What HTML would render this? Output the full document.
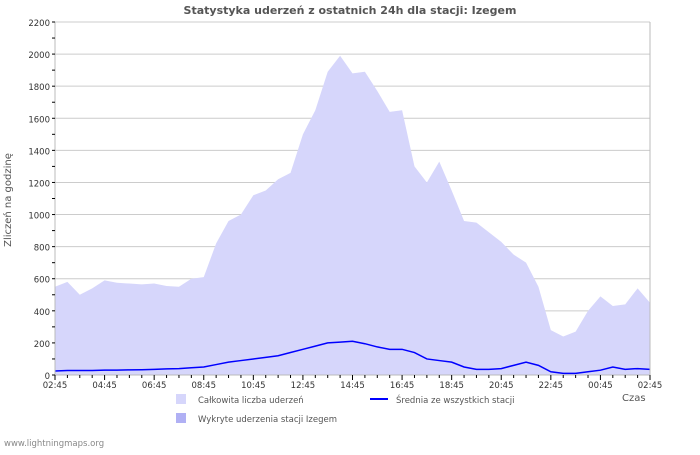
<!DOCTYPE html>
<html><head><meta charset="utf-8"><style>
body{margin:0;background:#fff;}
text{font-family:"DejaVu Sans","Liberation Sans",sans-serif;}
</style></head><body>
<svg id="chart" width="700" height="450" xmlns="http://www.w3.org/2000/svg">
<rect width="700" height="450" fill="#fff"/>
<text x="350" y="14" text-anchor="middle" font-size="11" font-weight="bold" fill="#555">Statystyka uderzeń z ostatnich 24h dla stacji: Izegem</text>
<g id="grid"></g>
<g id="series"></g>
<g id="axes"></g>
<text transform="translate(11,200) rotate(-90)" text-anchor="middle" font-size="10" fill="#555">Zliczeń na godzinę</text>
<text x="622" y="401" font-size="10" fill="#555">Czas</text>
<rect x="176" y="394" width="10" height="10" fill="#d6d6fb"/>
<text x="198" y="403" font-size="8.5" fill="#555">Całkowita liczba uderzeń</text>
<rect x="176" y="413" width="10" height="10" fill="#b0b0f4"/>
<text x="198" y="422" font-size="8.5" fill="#555">Wykryte uderzenia stacji Izegem</text>
<line x1="370" y1="399" x2="388" y2="399" stroke="#0000ff" stroke-width="2"/>
<text x="396" y="403" font-size="8.5" fill="#555">Średnia ze wszystkich stacji</text>
<text x="4" y="446" font-size="8.5" fill="#888">www.lightningmaps.org</text>
</svg>
<script>
const totalCounts=[550,580,500,540,590,575,570,565,570,555,550,600,610,820,960,1000,1120,1150,1220,1260,1500,1650,1890,1990,1880,1890,1770,1640,1650,1300,1200,1330,1150,960,950,890,830,750,700,550,280,240,270,400,490,430,440,540,450];
const avgCounts=[25,28,28,28,30,30,32,33,35,38,40,45,50,65,80,90,100,110,120,140,160,180,200,205,210,195,175,160,160,140,100,90,80,50,35,35,40,60,80,60,20,10,10,20,30,50,35,40,35];
const yTicks=[0,200,400,600,800,1000,1200,1400,1600,1800,2000,2200];
const xLabels=["02:45","04:45","06:45","08:45","10:45","12:45","14:45","16:45","18:45","20:45","22:45","00:45","02:45"];
const X0=55,X1=650,Y0=375,Y1=22,YMAX=2200;
const n=totalCounts.length;
const xs=i=>X0+(X1-X0)*i/(n-1);
const ys=v=>Y0-(Y0-Y1)*v/YMAX;
const NS="http://www.w3.org/2000/svg";
function mk(tag,attrs,parent){const e=document.createElementNS(NS,tag);for(const k in attrs)e.setAttribute(k,attrs[k]);document.getElementById(parent).appendChild(e);return e;}
yTicks.forEach(v=>{
 const l=mk('line',{x1:X0,x2:X1,y1:ys(v),y2:ys(v),stroke:'#ccc','stroke-width':1},'grid');
 
 
 const t=mk('text',{x:X0-5,y:ys(v)+4,'text-anchor':'end','font-size':8.5,fill:'#333'},'axes');
 t.textContent=v;
 
 
});
let pts=X0+','+Y0+' ';
totalCounts.forEach((v,i)=>{pts+=xs(i)+','+ys(v)+' ';});
pts+=X1+','+Y0;
const area=mk('polygon',{points:pts,fill:'#d6d6fb'},'series');


const line=mk('polyline',{points:avgCounts.map((v,i)=>xs(i)+','+ys(v)).join(' '),fill:'none',stroke:'#0000ff','stroke-width':1.5},'series');


const ax=mk('path',{d:`M${X0},${Y1}V${Y0}H${X1}V${Y1}`,fill:'none',stroke:'#bbb','stroke-width':1},'axes');


for(let k=0;k<=48;k++){
 const x=X0+(X1-X0)*k/48;
 const tk=mk('line',{x1:x,x2:x,y1:Y0,y2:Y0+(k%4==0?5:3),stroke:'#000','stroke-width':1},'axes');
 
 
}
for(let k=0;k<=22;k++){
 const y=ys(k*100);
 const tk=mk('line',{x1:X0-3,x2:X0,y1:y,y2:y,stroke:'#000','stroke-width':1},'axes');
 
 
}
xLabels.forEach((s,i)=>{
 const t=mk('text',{x:X0+(X1-X0)*i/(xLabels.length-1),y:Y0+13,'text-anchor':'middle','font-size':8.5,fill:'#333'},'axes');
 t.textContent=s;
 
 
});
</script>
</body></html>
